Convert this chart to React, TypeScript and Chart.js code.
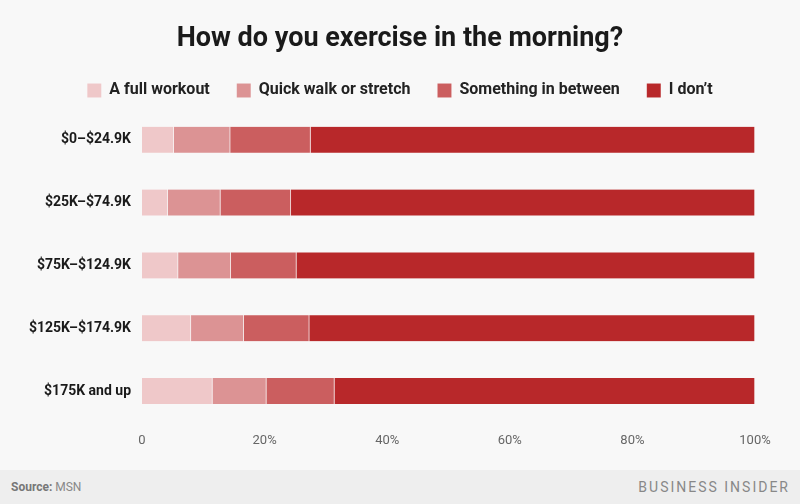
import React, { useEffect, useRef } from "react";
import { Chart, registerables } from "chart.js";

Chart.register(...registerables);

const categories = ["$0–$24.9K", "$25K–$74.9K", "$75K–$124.9K", "$125K–$174.9K", "$175K and up"];
const fullWorkout = [5.2, 4.2, 5.9, 8.0, 11.5];
const quickWalk = [9.2, 8.6, 8.6, 8.6, 8.8];
const somethingBetween = [13.1, 11.5, 10.7, 10.7, 11.1];
const iDont = [72.5, 75.7, 74.8, 72.7, 68.6];
const seriesNames = ["A full workout", "Quick walk or stretch", "Something in between", "I don’t"];
const seriesColors = ["#EFC8C9", "#DC9394", "#CB5E5F", "#B8282A"];
const xTicks = [0, 20, 40, 60, 80, 100];

// centre title and legend on the full canvas width
const centerHeader = {
  id: "centerHeader",
  afterLayout(chart: any) {
    [chart.titleBlock, chart.legend].forEach((b: any) => {
      if (!b) return;
      const w = b.right - b.left;
      const c = chart.width / 2;
      b.left = c - w / 2;
      b.right = c + w / 2;
    });
  },
};

export default function App() {
  const ref = useRef<HTMLCanvasElement | null>(null);
  useEffect(() => {
    if (!ref.current) return;
    const values = [fullWorkout, quickWalk, somethingBetween, iDont];
    const chart = new Chart(ref.current, {
      type: "bar",
      data: {
        labels: categories,
        datasets: values.map((v, i) => ({
          label: seriesNames[i],
          data: v,
          backgroundColor: seriesColors[i],
          borderColor: "rgba(255,255,255,0.25)",
          borderWidth: { left: 0, right: 1, top: 0, bottom: 0 },
          borderSkipped: false,
          barThickness: 26,
        })),
      },
      plugins: [centerHeader],
      options: {
        indexAxis: "y",
        animation: false,
        responsive: false,
        maintainAspectRatio: false,
        layout: { padding: { left: 0, right: 45, top: 0, bottom: 18 } },
        plugins: {
          title: {
            display: true,
            text: "How do you exercise in the morning?",
            color: "#1a1a1a",
            font: { family: "Roboto", size: 27, weight: "bold" },
            padding: { top: 23, bottom: 0 },
          },
          legend: {
            display: true,
            position: "top",
            labels: {
              color: "#222",
              font: { family: "Roboto", size: 16, weight: "bold" },
              boxWidth: 14,
              boxHeight: 14,
              padding: 27,
            },
          },
          tooltip: { enabled: false },
        },
        scales: {
          x: {
            stacked: true,
            min: 0,
            max: 100,
            grid: { display: false },
            border: { display: false },
            afterBuildTicks: (s: any) => {
              s.ticks = xTicks.map((v) => ({ value: v }));
            },
            ticks: {
              color: "#666",
              font: { family: "Roboto", size: 13 },
              callback: (v: any) => (v === 0 ? "0" : v + "%"),
              padding: 3,
            },
          },
          y: {
            stacked: true,
            grid: { display: false },
            border: { display: false },
            afterFit: (s: any) => {
              s.width = 142;
            },
            ticks: {
              color: "#1a1a1a",
              font: { family: "Roboto", size: 14, weight: "bold" },
              padding: 3,
            },
          },
        },
      },
    });
    return () => chart.destroy();
  }, []);

  return (
    <div style={{ position: "fixed", left: 0, top: 0, width: 800, height: 504, background: "#F8F8F8", overflow: "hidden" }}>
      <canvas ref={ref} width={800} height={470} style={{ display: "block", width: 800, height: 470 }} />
      <div
        style={{
          position: "absolute",
          left: 0,
          top: 470,
          width: 800,
          height: 34,
          background: "#EEEEEE",
          fontFamily: "Roboto",
          display: "flex",
          alignItems: "center",
          justifyContent: "space-between",
          boxSizing: "border-box",
          padding: "0 10px 0 11px",
        }}
      >
        <span style={{ fontSize: 12, color: "#888" }}>
          <b style={{ color: "#777" }}>Source:</b> MSN
        </span>
        <span style={{ fontSize: 14, color: "#888", letterSpacing: 2 }}>BUSINESS INSIDER</span>
      </div>
    </div>
  );
}
